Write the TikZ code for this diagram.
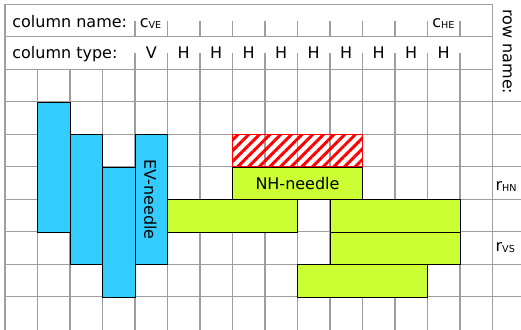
\documentclass[tikz,border=0pt]{standalone}
\usepackage{fontspec}
\setmainfont{DejaVu Sans}
\usepackage{tikz}
\usetikzlibrary{patterns.meta}
\definecolor{evblue}{RGB}{51,204,255}
\definecolor{nhgreen}{RGB}{204,255,51}
\tikzstyle{grid} = [draw=black!38, line width=0.9pt]
\tikzstyle{vbar} = [draw, fill=evblue, line width=0.8pt]
\tikzstyle{hbar} = [draw, fill=nhgreen, line width=0.8pt]
\tikzstyle{blocked} = [draw=red, line width=1.2pt, pattern color=red,
    pattern={Lines[angle=45, distance=6.6pt, line width=2.6pt]}]
\newcommand{\lowsub}[1]{\raisebox{-1pt}{\fontsize{8.4}{9}\selectfont #1}}

\begin{document}
\begin{tikzpicture}[x=1cm, y=1cm, font=\fontsize{14}{16}\selectfont]
      \useasboundingbox (-0.154,0.138) rectangle (15.877,-10.015);
      \clip (-0.154,0.138) rectangle (15.877,-10.015);
      % Grid
      \foreach \y in {0,-1,-2} \path[grid] (0,\y) -- (15,\y);
      \foreach \y in {-3,...,-9} \path[grid] (0,\y) -- (16,\y);
      \foreach \x in {0,15} \path[grid] (\x,0) -- (\x,-10.2);
      \foreach \x in {1,...,14} \path[grid] (\x,-2) -- (\x,-10.2);
      \foreach \x in {4,...,14} \path[grid] (\x,-0.5) -- (\x,-1) (\x,-1.5) -- (\x,-2);
      % Header
      \node [anchor=base west, inner sep=0pt] (colname) at (0.22,-0.71) {column name:};
      \node [anchor=base west, inner sep=0pt] (c-ve) at (4.14,-0.71) {c\lowsub{VE}};
      \node [anchor=base west, inner sep=0pt] (c-he) at (13.14,-0.71) {c\lowsub{HE}};
      \node [anchor=base west, inner sep=0pt] (coltype) at (0.22,-1.66) {column type:};
      \node [anchor=base] (type-v) at (4.5,-1.66) {V};
      \foreach \x in {5,...,13} \node [anchor=base] (type-\x) at (\x+0.5,-1.66) {H};
      \node [rotate=-90] (rowname) at (15.45,-1.46) {row name:};
      % EV-needles
      \draw [vbar] (1,-3) rectangle (2,-7);
      \draw [vbar] (2,-4) rectangle (3,-8);
      \draw [vbar] (3,-5) rectangle (4,-9);
      \draw [vbar] (4,-4) rectangle (5,-8);
      \node [rotate=-90] (ev-needle) at (4.47,-6) {EV-needle};
      % NH-needles
      \draw [blocked] (7,-4) rectangle (11,-5);
      \draw [hbar] (7,-5) rectangle (11,-6);
      \node (nh-needle) at (9,-5.5) {NH-needle};
      \draw [hbar] (5,-6) rectangle (9,-7);
      \draw [hbar] (10,-6) rectangle (14,-7);
      \draw [hbar] (10,-7) rectangle (14,-8);
      \draw [hbar] (9,-8) rectangle (13,-9);
      % Row names
      \node [anchor=base west, inner sep=0pt] (r-hn) at (15.09,-5.71) {r\lowsub{HN}};
      \node [anchor=base west, inner sep=0pt] (r-vs) at (15.09,-7.6) {r\lowsub{VS}};
  \end{tikzpicture}
\end{document}
